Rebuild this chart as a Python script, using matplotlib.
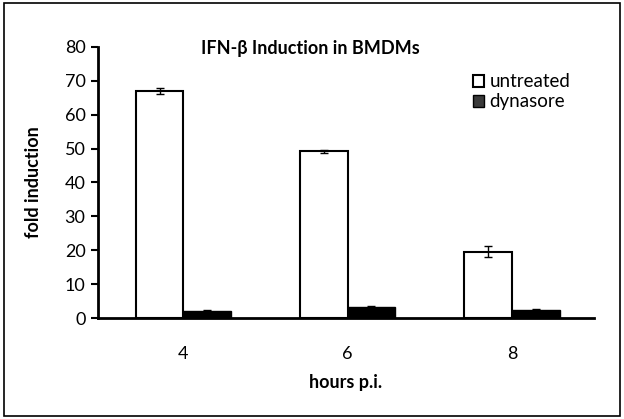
import matplotlib
matplotlib.use("Agg")
import matplotlib.pyplot as plt
import numpy as np
from matplotlib.patches import Rectangle

categories = ["4", "6", "8"]
untreated = [67.0, 49.2, 19.6]
untreated_err = [0.8, 0.4, 1.6]
dynasore = [2.2, 3.2, 2.5]
dynasore_err = [0.1, 0.2, 0.1]

plt.rcParams['font.family'] = ['Lato', 'DejaVu Sans']

fig = plt.figure(figsize=(6.24, 4.19), dpi=100)
ax = fig.add_axes([0.157, 0.241, 0.795, 0.647])

x = np.arange(len(categories))
w = 0.29
ax.bar(x - w/2, untreated, w, color='white', edgecolor='black', linewidth=1.5,
       yerr=untreated_err, error_kw=dict(ecolor='black', elinewidth=1, capsize=3, capthick=1),
       label='untreated')
ax.bar(x + w/2, dynasore, w, color='black', edgecolor='black', linewidth=1.0,
       yerr=dynasore_err, error_kw=dict(ecolor='black', elinewidth=1, capsize=3, capthick=1),
       label='dynasore')

ax.set_xlim(-0.52, 2.5)
ax.set_ylim(0, 80)
ax.set_yticks(np.arange(0, 81, 10))
ax.set_xticks(x)
ax.set_xticklabels(categories)
ax.tick_params(axis='x', length=0, pad=20, labelsize=13)
ax.tick_params(axis='y', length=5, width=1.5, labelsize=13, direction='out', pad=4)
for s in ['top', 'right']:
    ax.spines[s].set_visible(False)
ax.spines['left'].set_linewidth(2)
ax.spines['bottom'].set_linewidth(2)

ax.set_xlabel('hours p.i.', fontsize=13, fontweight='bold', labelpad=9)
ax.set_ylabel('fold induction', fontsize=13, fontweight='bold', labelpad=16)
fig.text(0.497, 0.885, 'IFN-β Induction in BMDMs', fontsize=13, fontweight='bold',
         ha='center', va='center')

leg = ax.legend(loc='upper left', bbox_to_anchor=(0.74, 0.93), frameon=False,
                fontsize=13.5, handlelength=0.6, handleheight=0.6, handletextpad=0.3,
                labelspacing=0.15, borderaxespad=0)
leg.legend_handles[1].set_facecolor('#3a3a3a')

fig.add_artist(Rectangle((0.006, 0.006), 0.988, 0.988, transform=fig.transFigure,
                         fill=False, edgecolor='black', linewidth=1.2))

fig.savefig('out.png', dpi=100)
